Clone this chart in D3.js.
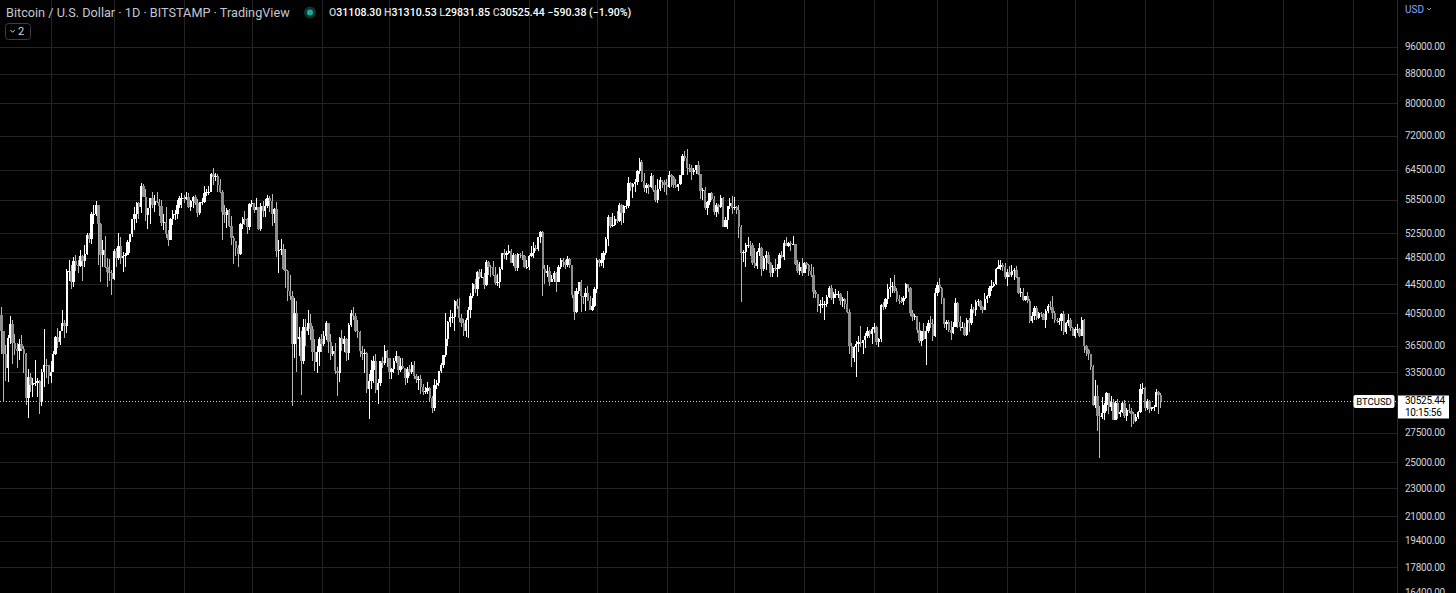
<!DOCTYPE html>
<html lang="en">
<head>
<meta charset="utf-8">
<title>Bitcoin / U.S. Dollar 1D</title>
<script src="https://cdn.jsdelivr.net/npm/d3@7"></script>
<style>
  html, body { margin: 0; padding: 0; background: #000; overflow: hidden; }
  svg { display: block; font-family: Roboto, "Noto Sans", sans-serif; }
</style>
</head>
<body>
<div id="chart"></div>
<script>
// daily BTCUSD candles (Bitstamp), one value per day starting at startDay
var startDay = "2021-01-09";
var firstOpen = 40600;

var closes = [
  // 2021-01 (from the 9th)
  40250, 38240, 35540, 33900, 37370, 39190, 36830, 36070, 35830, 36630, 36070, 35470, 30830, 33000, 32100, 32280, 32370, 32570, 30430, 33450, 34300, 34280, 33110,
  // 2021-02
  33540, 35510, 37470, 36930, 38290, 39250, 38900, 46400, 46500, 44870, 48000, 47400, 47140, 48700, 47940, 49150, 52120, 51600, 55900, 55900, 57490, 54100, 48900, 49700, 47100, 46300, 46200, 45240,
  // 2021-03
  49600, 48400, 50400, 48400, 48750, 48880, 50970, 52400, 54900, 55900, 57800, 57200, 61200, 59000, 55600, 56900, 58900, 57600, 58300, 58100, 57400, 54300, 54400, 52300, 51300, 55000, 55800, 55800, 57600, 58800, 58800,
  // 2021-04
  58700, 59000, 57100, 58200, 59100, 57900, 56000, 58000, 58100, 59800, 59900, 59900, 63500, 62900, 63200, 61400, 60000, 56200, 55700, 56500, 53800, 51700, 51200, 50100, 49100, 54000, 55000, 54900, 53600, 57700,
  // 2021-05
  57800, 56600, 57200, 53200, 57400, 56400, 57400, 58800, 58300, 55800, 56700, 49500, 49700, 49900, 46800, 46400, 43600, 42900, 36700, 40600, 37300, 37500, 34700, 38700, 38300, 39300, 38500, 35700, 34600, 35700, 37300,
  // 2021-06
  36700, 37600, 39200, 36900, 35500, 35800, 33600, 33400, 37400, 36700, 37300, 35600, 39000, 40500, 40200, 38300, 38100, 35800, 35500, 35600, 31700, 32500, 33700, 34700, 31600, 32300, 34700, 34500, 35900, 35000,
  // 2021-07
  33500, 33800, 34700, 35300, 33700, 34200, 33900, 32900, 33800, 33500, 34300, 33100, 32700, 32800, 31900, 31400, 31500, 31800, 30800, 29800, 32100, 32300, 33600, 34300, 35400, 37300, 39400, 40000, 40000, 42200, 41500,
  // 2021-08
  39900, 39200, 38200, 39700, 40900, 42800, 44600, 43800, 46300, 45600, 45600, 44400, 47800, 47100, 47000, 45900, 44700, 44800, 46700, 49300, 48900, 49300, 49500, 47700, 48900, 46900, 49100, 48900, 48800, 47000, 47100,
  // 2021-09
  48800, 49300, 50000, 49900, 51800, 52700, 46800, 46100, 46400, 44900, 45200, 46100, 44900, 47100, 48100, 47800, 47300, 48300, 47300, 43000, 40700, 43600, 44900, 42800, 42700, 43200, 42200, 41000, 41500, 43800,
  // 2021-10
  48100, 47700, 48200, 49200, 51500, 55300, 53800, 53900, 55000, 54700, 57500, 56000, 57400, 57400, 61700, 60900, 61500, 62000, 64300, 66000, 62200, 60700, 61300, 60900, 63100, 60300, 58400, 60600, 62300, 61900, 61300,
  // 2021-11
  61000, 63300, 62900, 61400, 61000, 61500, 63300, 67500, 66900, 64900, 64800, 64100, 64400, 65500, 63600, 60100, 60300, 56900, 58100, 59700, 58700, 56300, 57600, 57200, 58900, 53600, 54800, 57300, 57800, 57000,
  // 2021-12
  57200, 56500, 53600, 49200, 49400, 50600, 50600, 50500, 47600, 47200, 49400, 50100, 46700, 48400, 48900, 47600, 46200, 46900, 46700, 46900, 49000, 48600, 50800, 50400, 50800, 50700, 50700, 47500, 46400, 47100, 46200,
  // 2022-01
  47700, 47300, 46400, 45800, 43400, 43100, 41500, 41700, 41800, 41800, 42700, 43900, 42600, 43100, 43100, 43100, 42200, 42400, 41700, 40700, 36500, 35100, 36300, 36700, 36900, 36800, 37200, 37700, 38200, 37900, 38500,
  // 2022-02
  38700, 36900, 37300, 41600, 41400, 42400, 43800, 44100, 44300, 43500, 42400, 42200, 42100, 42500, 44500, 43900, 40500, 40000, 40100, 38400, 37000, 38200, 37300, 38300, 39200, 39100, 37700, 43200,
  // 2022-03
  44400, 43900, 42500, 39100, 39400, 38400, 38000, 38700, 41900, 39400, 38800, 38800, 37800, 39700, 39300, 41100, 40900, 42000, 42200, 41300, 41000, 42400, 42900, 44000, 44300, 44500, 46800, 47100, 47400, 47100, 45500,
  // 2022-04
  46300, 45800, 46400, 46600, 45500, 43200, 43400, 42300, 42800, 42200, 39500, 40100, 41200, 39900, 40600, 40400, 39700, 40800, 41500, 41400, 40500, 39700, 39500, 39500, 40400, 38100, 39200, 39700, 38600, 37700,
  // 2022-05
  38500, 38500, 37700, 39700, 36500, 36000, 35500, 34100, 30100, 31000, 29100, 29000, 29300, 30100, 31300, 29900, 30400, 28700, 30300, 29200, 29400, 30300, 29100, 29600, 29500, 29200, 28600, 29000, 29400, 31700, 31800,
  // 2022-06
  29800, 30500, 29700, 29900, 29900, 31400, 31115.82, 30525.44
];

var highs = [
  41400, 41350, 38300, 36600, 37800, 40100, 39700, 37900, 36800, 37300, 37800, 36400, 35600, 33800, 33400, 32900, 34800, 32900, 32600, 33800, 38500, 34900, 34300,
  34700, 35900, 37700, 38600, 38300, 40900, 39700, 46700, 48100, 47300, 48600, 48900, 48100, 49700, 49000, 50500, 52600, 52500, 56300, 57500, 58350, 57500, 54200, 51400, 52000, 48400, 48300, 46600,
  49800, 50100, 52600, 51800, 49400, 49200, 51400, 52400, 54900, 57200, 58000, 58000, 61800, 61600, 60600, 56900, 58900, 60000, 59400, 59900, 58600, 58400, 55800, 57200, 53000, 55100, 56500, 56500, 58400, 59300, 59800,
  59400, 60000, 59700, 58400, 59300, 59400, 58600, 58100, 58800, 61200, 60600, 61100, 63700, 64900, 63800, 63500, 62500, 60400, 57500, 57000, 56800, 55500, 52100, 51200, 50600, 54300, 55400, 56400, 55200, 57900,
  58400, 57900, 58900, 57200, 57900, 58300, 58600, 59500, 59300, 59600, 57000, 58000, 51400, 51500, 50700, 49800, 46600, 45800, 43500, 42500, 42200, 38800, 38200, 39800, 39800, 40900, 40400, 38900, 37300, 36400, 37500,
  37900, 38200, 39500, 39200, 37900, 36500, 36800, 34100, 37500, 38400, 37700, 37400, 39300, 41000, 41300, 40500, 39600, 38200, 36400, 36100, 35700, 33300, 34800, 35300, 35500, 32700, 34700, 35200, 36600, 36000,
  35000, 33900, 35000, 35900, 35300, 35100, 35000, 33900, 34100, 34300, 34600, 34700, 33300, 33100, 33200, 32200, 31900, 32400, 31900, 31000, 32800, 32600, 33600, 34500, 35400, 40500, 39500, 40900, 40600, 42300, 42400,
  42600, 40400, 39800, 39900, 41400, 43300, 44700, 45300, 46400, 46700, 46700, 46200, 48100, 48000, 47400, 48000, 47100, 46000, 47000, 49300, 49800, 49500, 50500, 49800, 49300, 49100, 49200, 49300, 49600, 48900, 48200,
  48900, 50400, 51000, 50500, 51900, 52800, 52900, 47400, 47300, 47000, 45900, 46400, 46300, 47300, 48500, 48500, 48200, 48800, 48400, 47300, 43600, 44000, 44900, 45100, 42900, 43900, 44300, 42800, 42600, 44100,
  48400, 48300, 49300, 49500, 51900, 55700, 55300, 56100, 55500, 56400, 57800, 57700, 57600, 58500, 62900, 62000, 61700, 62600, 64400, 67000, 66600, 63700, 61700, 61500, 63700, 63300, 61400, 62500, 62900, 62300, 62400,
  62500, 64200, 63500, 63100, 62600, 61600, 63300, 67800, 68500, 69000, 65600, 65400, 64900, 65500, 66300, 63600, 60800, 60900, 58300, 59800, 60000, 59300, 57800, 57700, 59400, 59000, 55300, 57400, 58800, 59200,
  59100, 57400, 57600, 53900, 49700, 50900, 51900, 51200, 50800, 50100, 49500, 50800, 50200, 48700, 49500, 49400, 47900, 47300, 48300, 47500, 49300, 49600, 51400, 51800, 51000, 51200, 52000, 50700, 48100, 47900, 48500,
  47900, 47900, 47500, 47500, 47000, 43700, 43100, 42300, 42700, 42200, 43000, 44300, 44400, 43400, 43800, 43500, 43200, 42700, 42600, 43500, 41100, 36800, 36500, 37000, 37600, 38900, 37200, 38000, 38700, 38400, 38700,
  39300, 38900, 37400, 41700, 42000, 42500, 44500, 45400, 44800, 45800, 43900, 43000, 42700, 42800, 44700, 44500, 44100, 40900, 40400, 40100, 39400, 38300, 39200, 38900, 39700, 40200, 39800, 44000,
  44900, 45400, 44100, 42500, 39600, 39600, 39500, 39400, 42600, 42000, 40200, 39400, 39300, 39900, 39900, 41700, 41400, 42300, 42400, 42300, 41500, 43300, 43000, 44200, 45100, 44800, 46900, 48200, 48100, 47700, 47600,
  46700, 47200, 47400, 46900, 47200, 45500, 43900, 43900, 42800, 43400, 42400, 40700, 41500, 41500, 40700, 40700, 40600, 41100, 41700, 42200, 42900, 40800, 39900, 39900, 40600, 40800, 39400, 40400, 39900, 38800,
  38700, 39100, 38600, 40000, 39800, 36600, 36100, 35500, 34300, 32600, 32100, 30000, 30900, 30300, 31400, 31300, 31000, 30700, 30500, 30700, 29600, 30400, 30600, 29800, 30200, 29800, 29400, 29200, 29500, 32200, 32300,
  31900, 30700, 30600, 29900, 30100, 31700, 31500, 31310.53
];

var lows = [
  38700, 35550, 30400, 32500, 32400, 36700, 34400, 35400, 33900, 34800, 35900, 33400, 30100, 28850, 31400, 30900, 32000, 30850, 29240, 30000, 31900, 32850, 32200,
  32300, 33450, 35400, 36200, 36600, 38200, 37400, 38000, 45000, 43800, 44100, 46400, 46200, 47000, 45000, 47100, 48900, 50900, 50700, 54000, 55500, 47400, 44900, 47000, 46900, 44100, 45000, 43000,
  45100, 47100, 48200, 47500, 46300, 47100, 48900, 49300, 51900, 53100, 54300, 55000, 56100, 59000, 54600, 53300, 54100, 57000, 56300, 57800, 55500, 53700, 53000, 51700, 50400, 51300, 53900, 54800, 54900, 57000, 57000,
  57900, 58500, 56900, 56400, 56900, 57500, 55400, 55700, 57600, 57900, 59300, 59400, 59900, 61300, 62100, 60000, 59700, 51300, 54200, 53400, 53600, 50500, 47500, 48800, 47100, 48900, 53300, 53900, 52400, 53100,
  57100, 56100, 56500, 53100, 52900, 55300, 55300, 56900, 56300, 53800, 54300, 48600, 46100, 48900, 46600, 43900, 42200, 42300, 30000, 35000, 33500, 35300, 31100, 34400, 36400, 37800, 37200, 34700, 33600, 33400, 34200,
  35700, 36500, 37200, 35600, 34800, 35300, 33300, 31000, 32400, 35800, 35700, 34700, 34800, 38800, 39600, 38100, 37400, 35200, 34800, 33400, 31300, 28800, 31700, 32300, 31300, 30200, 32000, 33900, 34300, 34000,
  32700, 32700, 33400, 34500, 33200, 33500, 33800, 32100, 32300, 33100, 33300, 32700, 32300, 31600, 31200, 31100, 31200, 31200, 30500, 29300, 29500, 31700, 32000, 33400, 33900, 35200, 36400, 38800, 39200, 38300, 41100,
  39400, 38700, 37600, 37500, 37400, 39900, 42500, 43300, 42800, 45300, 45400, 43800, 44200, 45800, 45600, 45700, 44400, 44300, 43900, 46600, 48300, 48100, 49100, 47600, 47200, 46400, 46400, 48500, 48100, 46900, 46700,
  46600, 48600, 48400, 49500, 49500, 50900, 42800, 44500, 45500, 44200, 44800, 44800, 43400, 44800, 46800, 47100, 46800, 47100, 46900, 42600, 39600, 40600, 43100, 40700, 41700, 40800, 42100, 40900, 40800, 41400,
  43300, 47100, 47200, 46900, 49000, 50400, 53400, 53600, 53700, 54200, 54400, 53900, 54300, 56800, 56900, 60200, 58900, 60000, 61400, 63500, 62000, 60000, 59700, 59600, 60700, 59900, 58100, 57800, 60200, 60700, 59900,
  59500, 60700, 61000, 60700, 60800, 60100, 61400, 63300, 66300, 63300, 64100, 62300, 63400, 63600, 63400, 58600, 58400, 56500, 55600, 57500, 58500, 55700, 55400, 55900, 57000, 53500, 53600, 53300, 56700, 55900,
  56500, 55900, 51700, 42000, 47800, 47100, 50000, 48700, 47400, 46900, 46800, 48700, 45700, 46400, 46600, 47500, 45500, 45600, 46400, 45600, 46700, 48500, 48100, 50300, 50200, 49500, 50500, 47400, 46100, 45900, 45700,
  46200, 46700, 45700, 45500, 42500, 42500, 40700, 40500, 41200, 39700, 41300, 42500, 42300, 41800, 42600, 42600, 41600, 41300, 41100, 40600, 35500, 34000, 34600, 33000, 35700, 36300, 35500, 36200, 37400, 37400, 36700,
  38000, 36600, 36300, 36900, 40900, 41100, 41700, 42700, 43200, 43200, 42000, 41700, 41900, 41600, 42400, 43400, 40100, 39500, 39600, 38000, 36800, 36400, 37100, 34300, 38000, 38600, 37000, 37500,
  42900, 43400, 41800, 38600, 38400, 38100, 37100, 37900, 38700, 38600, 38200, 38700, 37600, 37600, 38100, 39000, 40500, 40200, 41500, 41000, 40500, 41000, 41900, 42600, 43600, 44100, 44400, 46700, 46600, 46500, 45200,
  44200, 45600, 45500, 45100, 45400, 43100, 42700, 42100, 42100, 41900, 39200, 39300, 39600, 39600, 39800, 40000, 39600, 38600, 40600, 40900, 39800, 39200, 39300, 39000, 38200, 37800, 37900, 38900, 38200, 37600,
  37400, 38000, 37500, 37700, 35600, 35300, 34800, 33700, 30000, 29800, 27700, 25400, 28800, 28700, 29500, 29200, 29500, 28700, 28700, 28800, 29000, 29300, 28900, 28600, 29300, 28000, 28300, 28500, 28800, 29300, 31200,
  29500, 29600, 29300, 29500, 29500, 29900, 29200, 29831.85
];

// right-hand price scale labels
var priceTicks = [96000, 88000, 80000, 72000, 64500, 58500, 52500, 48500, 44500, 40500, 36500,
                  33500, 27500, 25000, 23000, 21000, 19400, 17800, 16400];

// legend of the last (live) candle
var lastOpen = 31108.30, lastHigh = 31310.53, lastLow = 29831.85, lastClose = 30525.44;
var lastChange = "\u2212590.38", lastChangePct = "(\u22121.90%)";
var countdown = "10:15:56";
var symbol = "BTCUSD";

var W = 1456, H = 593, axisX = 1397;

// build candles; crypto trades 24/7 so each day opens at the prior close
var day0 = d3.utcParse("%Y-%m-%d")(startDay);
var candles = closes.map(function(c, i) {
  var o = i === 0 ? firstOpen : closes[i - 1];
  if (i === closes.length - 1) o = lastOpen;
  return { date: d3.utcDay.offset(day0, i), o: o, h: highs[i], l: lows[i], c: c };
});

var x = d3.scaleUtc()
    .domain([new Date(Date.UTC(2021, 1, 1)), new Date(Date.UTC(2022, 5, 1))])
    .range([51, 1145]);
var y = d3.scaleLog()
    .domain([16400, 96000])
    .range([592.7, 46.7]);

var svg = d3.select("#chart").append("svg")
    .attr("width", W).attr("height", H);

svg.append("rect").attr("width", W).attr("height", H).attr("fill", "#000");

svg.append("clipPath").attr("id", "plot")
  .append("rect").attr("width", axisX).attr("height", H);

var plot = svg.append("g").attr("clip-path", "url(#plot)");

// grid
var months = d3.utcMonth.range(new Date(Date.UTC(2020, 11, 1)), new Date(Date.UTC(2022, 10, 1)))
    .filter(function(d) { return x(d) > 0 && x(d) < axisX; });
plot.append("g").selectAll("line").data(months).enter().append("line")
    .attr("x1", function(d) { return Math.round(x(d)) + 0.5; })
    .attr("x2", function(d) { return Math.round(x(d)) + 0.5; })
    .attr("y1", 0).attr("y2", H)
    .attr("stroke", "#222227");
plot.append("g").selectAll("line").data(priceTicks).enter().append("line")
    .attr("x1", 0).attr("x2", axisX)
    .attr("y1", function(d) { return Math.round(y(d)) + 0.5; })
    .attr("y2", function(d) { return Math.round(y(d)) + 0.5; })
    .attr("stroke", "#222227");

// last price line
var py = Math.round(y(lastClose)) + 0.5;
plot.append("line")
    .attr("x1", 0).attr("x2", axisX)
    .attr("y1", py).attr("y2", py)
    .attr("stroke", "#d0d0d0").attr("stroke-dasharray", "1,2");

// candles
var bw = 2.4;
var g = plot.append("g").attr("shape-rendering", "crispEdges");
g.selectAll(".wick").data(candles).enter().append("line")
    .attr("class", "wick")
    .attr("x1", function(d) { return x(d.date); })
    .attr("x2", function(d) { return x(d.date); })
    .attr("y1", function(d) { return y(d.h); })
    .attr("y2", function(d) { return y(d.l); })
    .attr("stroke", function(d) { return d.c >= d.o ? "#ffffff" : "#b8b8b8"; })
    .attr("stroke-width", 1);
g.selectAll(".body").data(candles).enter().append("rect")
    .attr("class", "body")
    .attr("x", function(d) { return x(d.date) - bw / 2; })
    .attr("width", bw)
    .attr("y", function(d) { return y(Math.max(d.o, d.c)); })
    .attr("height", function(d) { return Math.max(1, y(Math.min(d.o, d.c)) - y(Math.max(d.o, d.c))); })
    .attr("fill", function(d) { return d.c >= d.o ? "#ffffff" : "#8e8e8e"; });

// symbol tag on the price line
var tag = svg.append("g");
tag.append("rect").attr("x", 1353.5).attr("y", py - 6.5).attr("width", 41).attr("height", 13)
    .attr("rx", 2).attr("fill", "#fff");
tag.append("text").attr("x", 1374).attr("y", py).attr("dy", "0.35em")
    .attr("text-anchor", "middle").attr("font-size", 9.5).attr("fill", "#000").text(symbol);

// price axis
svg.append("line").attr("x1", axisX + 0.5).attr("x2", axisX + 0.5).attr("y1", 0).attr("y2", H)
    .attr("stroke", "#2a2a30");
svg.append("g").selectAll("text").data(priceTicks).enter().append("text")
    .attr("x", 1405).attr("y", function(d) { return y(d); }).attr("dy", "0.35em")
    .attr("font-size", 10).attr("letter-spacing", -0.25).attr("fill", "#d1d4dc")
    .text(function(d) { return d3.format(".2f")(d); });

var pl = svg.append("g");
pl.append("rect").attr("x", axisX + 1).attr("y", py - 6).attr("width", 51).attr("height", 23)
    .attr("fill", "#fff");
pl.append("text").attr("x", 1405).attr("y", y(lastClose)).attr("dy", "0.35em")
    .attr("font-size", 10).attr("letter-spacing", -0.25).attr("fill", "#000").text(d3.format(".2f")(lastClose));
pl.append("text").attr("x", 1405).attr("y", y(lastClose) + 11.5).attr("dy", "0.35em")
    .attr("font-size", 10).attr("letter-spacing", -0.25).attr("fill", "#000").text(countdown);

// currency selector
svg.append("text").attr("x", 1405).attr("y", 9).attr("dy", "0.35em")
    .attr("font-size", 10).attr("fill", "#8fa6ff").text("USD");
svg.append("path").attr("d", "M1427,8 l2,2 l2,-2").attr("fill", "none")
    .attr("stroke", "#8fa6ff").attr("stroke-width", 0.9);

// legend
svg.append("text").attr("x", 6).attr("y", 12.5).attr("dy", "0.35em")
    .attr("font-size", 12.7).attr("fill", "#c4c7cf")
    .text("Bitcoin / U.S. Dollar \u00b7 1D \u00b7 BITSTAMP \u00b7 TradingView");
svg.append("circle").attr("cx", 310).attr("cy", 12.5).attr("r", 6).attr("fill", "#0b3530");
svg.append("circle").attr("cx", 310).attr("cy", 12.5).attr("r", 3).attr("fill", "#22ab94");

var fmt = d3.format(".2f");
var ohlc = svg.append("text").attr("x", 329).attr("y", 12.5).attr("dy", "0.35em")
    .attr("font-size", 10.6).attr("font-weight", 500);
[["O", fmt(lastOpen)], [" H", fmt(lastHigh)], [" L", fmt(lastLow)], [" C", fmt(lastClose)],
 [" ", lastChange + " " + lastChangePct]].forEach(function(p) {
  ohlc.append("tspan").attr("fill", "#c4c7cf").text(p[0]);
  ohlc.append("tspan").attr("fill", "#ffffff").text(p[1]);
});

// collapsed indicators button
svg.append("rect").attr("x", 5.5).attr("y", 23.5).attr("width", 25).attr("height", 16)
    .attr("rx", 3).attr("fill", "none").attr("stroke", "#3a3d45");
svg.append("path").attr("d", "M10.5,30 l2.2,2.2 l2.2,-2.2").attr("fill", "none")
    .attr("stroke", "#d1d4dc").attr("stroke-width", 1);
svg.append("text").attr("x", 18).attr("y", 31.5).attr("dy", "0.35em")
    .attr("font-size", 11).attr("fill", "#d1d4dc").text("2");
</script>
</body>
</html>
